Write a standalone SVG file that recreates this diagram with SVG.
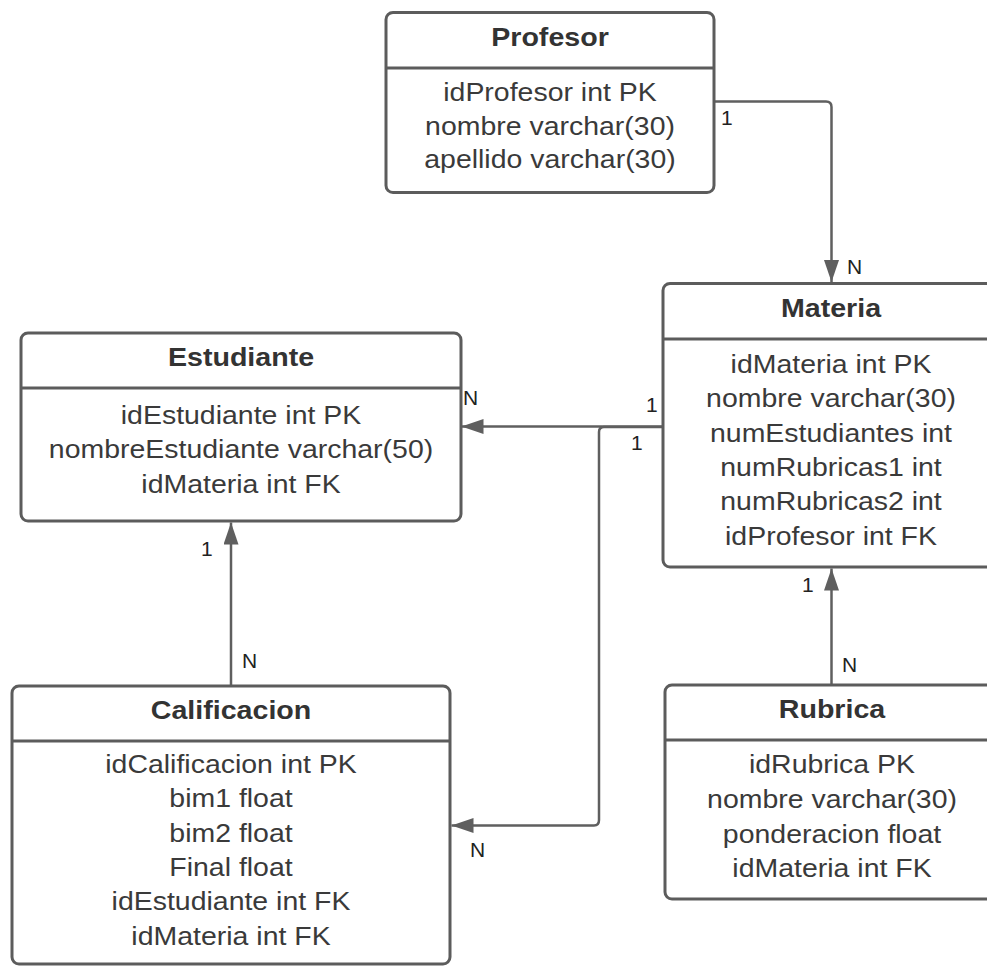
<svg xmlns="http://www.w3.org/2000/svg" width="987" height="966" viewBox="0 0 987 966">
<style>
.box{fill:#fff;stroke:#5c5c5c;stroke-width:3}
.div{stroke:#5c5c5c;stroke-width:3}
.ttl{font-family:"Liberation Sans",Arial,sans-serif;font-weight:bold;font-size:26px;fill:#333;text-anchor:middle}
.att{font-family:"Liberation Sans",Arial,sans-serif;font-size:26px;fill:#3a3a3a;text-anchor:middle}
.lbl{font-family:"Liberation Sans",Arial,sans-serif;font-size:21px;fill:#222}
.con{fill:none;stroke:#5f5f5f;stroke-width:2.5}
</style>
<defs>
<marker id="arr" markerUnits="userSpaceOnUse" markerWidth="24" markerHeight="16" refX="22" refY="7.5" orient="auto">
<path d="M0,0 L22,7.5 L0,15 z" fill="#5f5f5f"/>
</marker>
</defs>
<rect width="987" height="966" fill="#fff"/>
<g id="connectors">
<path class="con" d="M714,101.5 H826 Q831.5,101.5 831.5,107 V282" marker-end="url(#arr)"/>
<path class="con" d="M663,426.5 H461.5" marker-end="url(#arr)"/>
<path class="con" d="M663,427 H604 Q599,427 599,432 V820 Q599,825.5 594,825.5 H451.5" marker-end="url(#arr)"/>
<path class="con" d="M231,686 V522.5" marker-end="url(#arr)"/>
<path class="con" d="M831.5,685 V568.5" marker-end="url(#arr)"/>
<text class="lbl" x="721" y="125">1</text>
<text class="lbl" x="847" y="274">N</text>
<text class="lbl" x="463" y="405">N</text>
<text class="lbl" x="646" y="412">1</text>
<text class="lbl" x="631" y="450">1</text>
<text class="lbl" x="470" y="857">N</text>
<text class="lbl" x="201" y="556">1</text>
<text class="lbl" x="242" y="668">N</text>
<text class="lbl" x="802" y="592">1</text>
<text class="lbl" x="842" y="672">N</text>
</g>
<g id="profesor">
<rect class="box" x="386" y="12.5" width="328" height="180" rx="7"/>
<line class="div" x1="386" y1="68" x2="714" y2="68"/>
<g transform="translate(550,0) scale(1.1,1)"><text class="ttl" x="0" y="46">Profesor</text></g>
<g transform="translate(550,0) scale(1.095,1)">
<text class="att" x="0" y="101">idProfesor int PK</text>
<text class="att" x="0" y="135">nombre varchar(30)</text>
<text class="att" x="0" y="168">apellido varchar(30)</text>
</g>
</g>
<g id="materia">
<rect class="box" x="663" y="283.5" width="336" height="283.5" rx="7"/>
<line class="div" x1="663" y1="339" x2="999" y2="339"/>
<g transform="translate(831,0) scale(1.1,1)"><text class="ttl" x="0" y="317">Materia</text></g>
<g transform="translate(831,0) scale(1.095,1)">
<text class="att" x="0" y="373">idMateria int PK</text>
<text class="att" x="0" y="407.5">nombre varchar(30)</text>
<text class="att" x="0" y="442">numEstudiantes int</text>
<text class="att" x="0" y="476">numRubricas1 int</text>
<text class="att" x="0" y="510.5">numRubricas2 int</text>
<text class="att" x="0" y="545">idProfesor int FK</text>
</g>
</g>
<g id="estudiante">
<rect class="box" x="21" y="333" width="440" height="188" rx="7"/>
<line class="div" x1="21" y1="388" x2="461" y2="388"/>
<g transform="translate(241,0) scale(1.1,1)"><text class="ttl" x="0" y="366">Estudiante</text></g>
<g transform="translate(241,0) scale(1.095,1)">
<text class="att" x="0" y="424">idEstudiante int PK</text>
<text class="att" x="0" y="458.5">nombreEstudiante varchar(50)</text>
<text class="att" x="0" y="493">idMateria int FK</text>
</g>
</g>
<g id="calificacion">
<rect class="box" x="12" y="686" width="438" height="278" rx="7"/>
<line class="div" x1="12" y1="741" x2="450" y2="741"/>
<g transform="translate(231,0) scale(1.1,1)"><text class="ttl" x="0" y="719">Calificacion</text></g>
<g transform="translate(231,0) scale(1.095,1)">
<text class="att" x="0" y="773">idCalificacion int PK</text>
<text class="att" x="0" y="807.5">bim1 float</text>
<text class="att" x="0" y="842">bim2 float</text>
<text class="att" x="0" y="876">Final float</text>
<text class="att" x="0" y="910.5">idEstudiante int FK</text>
<text class="att" x="0" y="945">idMateria int FK</text>
</g>
</g>
<g id="rubrica">
<rect class="box" x="665" y="685" width="334" height="214" rx="7"/>
<line class="div" x1="665" y1="740" x2="999" y2="740"/>
<g transform="translate(832,0) scale(1.1,1)"><text class="ttl" x="0" y="718">Rubrica</text></g>
<g transform="translate(832,0) scale(1.095,1)">
<text class="att" x="0" y="773">idRubrica PK</text>
<text class="att" x="0" y="808">nombre varchar(30)</text>
<text class="att" x="0" y="843">ponderacion float</text>
<text class="att" x="0" y="877">idMateria int FK</text>
</g>
</g>
</svg>
